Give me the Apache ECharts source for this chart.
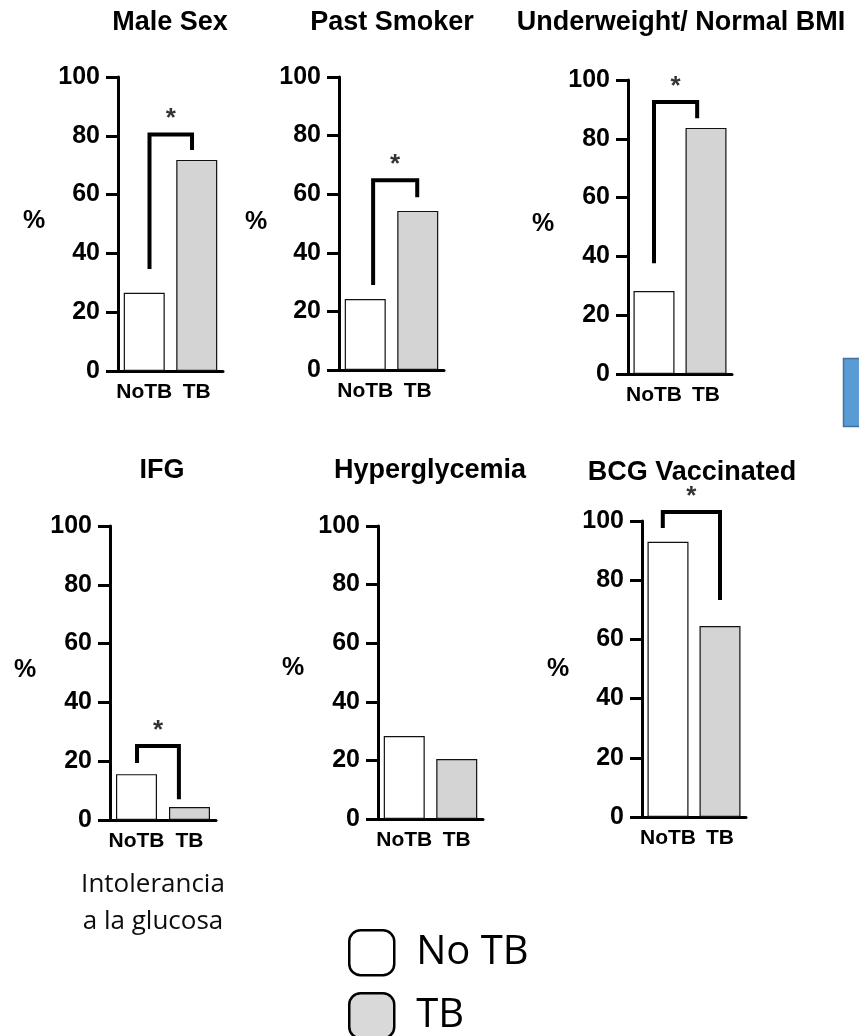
<!DOCTYPE html>
<html>
<head>
<meta charset="utf-8">
<script src="https://cdn.jsdelivr.net/npm/echarts@6/dist/echarts.min.js"></script>
<style>html,body{margin:0;padding:0;background:#fff;}#c{width:859px;height:1036px;}</style>
</head>
<body>
<div id="c"></div>
<script>
// ---- data ----
var categories = ['NoTB', 'TB'];
var panelTitles = ['Male Sex', 'Past Smoker', 'Underweight/ Normal BMI', 'IFG', 'Hyperglycemia', 'BCG Vaccinated'];
var noTBValues = [26.6, 24.2, 28.2, 15.6, 28.3, 93.0];
var tbValues   = [71.8, 54.3, 83.7, 4.4, 20.5, 64.5];
// significance brackets: [xLeft, xRight] on a 0..2 scale across the two bars; [yLeftEnd, yTop, yRightEnd] in %
var bracketX = [[0.60, 1.41], [0.65, 1.49], [0.50, 1.33], [0.51, 1.30], null, [0.40, 1.50]];
var bracketY = [[34.7, 80.4, 75.2], [29.0, 64.8, 59.0], [37.7, 92.5, 87.0], [19.4, 25.2, 7.1], null, [97.6, 103.0, 73.3]];
var yTicks = [0, 20, 40, 60, 80, 100];
var legendNames = ['No TB', 'TB'];
var noteText = 'Intolerancia\na la glucosa';

// ---- layout ----
var grids = [
  {left: 118, top: 77, width: 105, height: 294},
  {left: 339, top: 77, width: 105, height: 293},
  {left: 628, top: 80, width: 104, height: 294},
  {left: 110, top: 526, width: 106, height: 294},
  {left: 378, top: 526, width: 105, height: 293},
  {left: 642, top: 521, width: 104, height: 296}
];
var titlePos = [[170, 23], [392, 23], [681, 23], [162, 471], [430, 471], [692, 473]];
var pctPos = [[34, 221], [256, 222], [543, 224], [25, 670], [293, 668], [558, 669]];

var BOLD = '"Liberation Sans", Arial, sans-serif';
var xAxes = [], yAxes = [], series = [], graphics = [];

grids.forEach(function (g, i) {
  xAxes.push({
    type: 'category', gridIndex: i, data: categories,
    axisLine: {lineStyle: {color: '#000', width: 3}},
    axisTick: {show: false},
    axisLabel: {interval: 0, hideOverlap: false, color: '#000', fontFamily: BOLD, fontWeight: 'bold', fontSize: 21, margin: 11}
  });
  xAxes.push({
    type: 'value', gridIndex: i, min: 0, max: 2, show: false
  });
  yAxes.push({
    type: 'value', gridIndex: i, min: 0, max: 100, interval: 20,
    splitLine: {show: false},
    axisLine: {show: true, lineStyle: {color: '#000', width: 3}},
    axisTick: {show: true, length: 12, lineStyle: {color: '#000', width: 3}},
    axisLabel: {color: '#000', fontFamily: BOLD, fontWeight: 'bold', fontSize: 25, margin: 18,
      formatter: function (v) { return yTicks.indexOf(v) >= 0 ? String(v) : ''; }}
  });
  series.push({
    name: legendNames[0], type: 'bar', xAxisIndex: 2 * i, yAxisIndex: i,
    data: [noTBValues[i], '-'], barWidth: 41, barGap: '-100%',
    itemStyle: {color: '#ffffff', borderColor: '#111', borderWidth: 1.2}, z: 2
  });
  series.push({
    name: legendNames[1], type: 'bar', xAxisIndex: 2 * i, yAxisIndex: i,
    data: ['-', tbValues[i]], barWidth: 41, barGap: '-100%',
    itemStyle: {color: '#d4d4d4', borderColor: '#111', borderWidth: 1.2}, z: 2
  });
  if (bracketX[i]) {
    var bx = bracketX[i], by = bracketY[i];
    series.push({
      type: 'line', xAxisIndex: 2 * i + 1, yAxisIndex: i, clip: false, silent: true,
      symbol: 'none', z: 5,
      lineStyle: {color: '#000', width: 4, join: 'miter', cap: 'butt'},
      data: [[bx[0], by[0]], [bx[0], by[1]], [bx[1], by[1]], [bx[1], by[2]]]
    });
    series.push({
      type: 'scatter', xAxisIndex: 2 * i + 1, yAxisIndex: i, clip: false, silent: true,
      symbolSize: 1, itemStyle: {color: 'rgba(0,0,0,0)'}, z: 6,
      label: {show: true, position: 'top', distance: 2, formatter: '*', color: '#000',
        fontFamily: BOLD, fontWeight: 'bold', fontSize: 26},
      data: [[(bx[0] + bx[1]) / 2, by[1]]]
    });
  }
  graphics.push({
    type: 'text', x: titlePos[i][0], y: titlePos[i][1],
    style: {text: panelTitles[i], fill: '#000', font: 'bold 27px ' + BOLD, textAlign: 'center', textVerticalAlign: 'middle'}
  });
  graphics.push({
    type: 'text', x: pctPos[i][0], y: pctPos[i][1],
    style: {text: '%', fill: '#000', font: 'bold 25px ' + BOLD, textAlign: 'center', textVerticalAlign: 'middle'}
  });
});

graphics.push({
  type: 'text', x: 153, y: 903,
  style: {text: noteText, fill: '#0d0d0d', font: '26px "Open Sans", sans-serif', lineHeight: 37, textAlign: 'center', textVerticalAlign: 'middle'}
});
graphics.push({
  type: 'rect', shape: {x: 843.5, y: 358.5, width: 30, height: 68},
  style: {fill: '#5b9bd5', stroke: '#41719c', lineWidth: 1.5}
});

var legendColors = ['#ffffff', '#d9d9d9'];
var legendTops = [929, 992];
var legends = legendNames.map(function (n, k) {
  return {
    left: 348, top: legendTops[k], padding: 0,
    itemWidth: 45, itemHeight: 45,
    icon: 'roundRect', selectedMode: false,
    textStyle: {color: '#000', fontSize: 40, fontFamily: '"Open Sans", sans-serif', padding: [0, 0, 0, 17]},
    data: [{name: n, itemStyle: {color: legendColors[k], borderColor: '#000', borderWidth: 2.5}}]
  };
});

var chart = echarts.init(document.getElementById('c'), null, {renderer: 'canvas'});
chart.setOption({
  animation: false,
  backgroundColor: '#fff',
  grid: grids.map(function (g) { return Object.assign({containLabel: false}, g); }),
  xAxis: xAxes,
  yAxis: yAxes,
  series: series,
  legend: legends,
  graphic: graphics
});
</script>
</body>
</html>
